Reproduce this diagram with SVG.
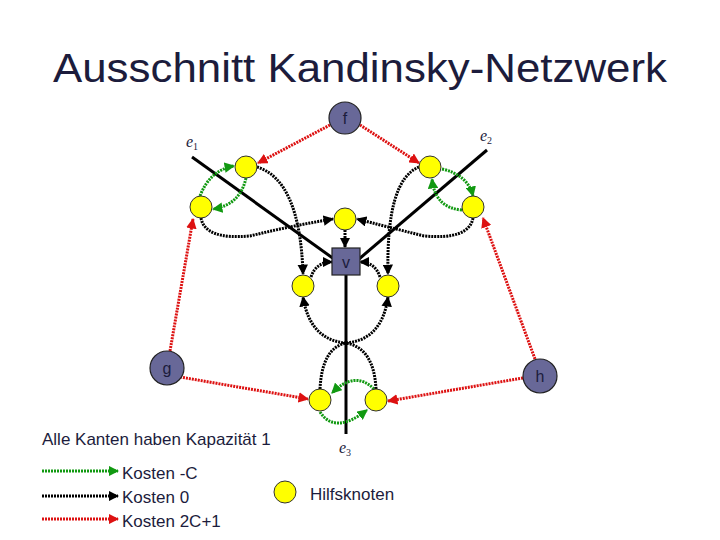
<svg xmlns="http://www.w3.org/2000/svg" width="720" height="540" viewBox="0 0 720 540">
<style>
.t{font-family:"Liberation Sans",Arial,sans-serif;fill:#1c1c3c}
.big{fill:#686898;stroke:#222;stroke-width:1.2}
.y{fill:#ffff00;stroke:#333;stroke-width:1}
.r{stroke:#dd1111;fill:none;stroke-width:3;stroke-dasharray:2 1;marker-end:url(#mr)}
.g{stroke:#119911;fill:none;stroke-width:3;stroke-dasharray:2 1;marker-end:url(#mg)}
.k{stroke:#000;fill:none;stroke-width:3;stroke-dasharray:2 1;marker-end:url(#mk)}
.s{stroke:#000;stroke-width:3;fill:none}
.e{font-family:"Liberation Serif",serif;font-style:italic;font-size:16px}
</style>
<defs>
<marker id="mr" viewBox="0 0 10 10" refX="9" refY="5" markerWidth="3.5" markerHeight="3.5" orient="auto"><path d="M0,0L10,5L0,10z" fill="#dd1111"/></marker>
<marker id="mg" viewBox="0 0 10 10" refX="9" refY="5" markerWidth="3.5" markerHeight="3.5" orient="auto"><path d="M0,0L10,5L0,10z" fill="#119911"/></marker>
<marker id="mk" viewBox="0 0 10 10" refX="9" refY="5" markerWidth="3.5" markerHeight="3.5" orient="auto"><path d="M0,0L10,5L0,10z" fill="#000"/></marker>
</defs>
<text class="t" x="360" y="82" font-size="40" text-anchor="middle" textLength="614" lengthAdjust="spacingAndGlyphs">Ausschnitt Kandinsky-Netzwerk</text>
<g id="edges">
<line class="s" x1="192" y1="157" x2="334" y2="259"/>
<line class="s" x1="487" y1="150" x2="359" y2="259"/>
<line class="s" x1="346" y1="275" x2="346" y2="434"/>
<path class="r" d="M330,125L258,163"/>
<path class="r" d="M360,125L419,163"/>
<path class="r" d="M170,351L193,219"/>
<path class="r" d="M535,359L483,218"/>
<path class="r" d="M180,377L308,399"/>
<path class="r" d="M523,378L388,401"/>
<path class="g" d="M200,196Q210,170 234,166"/>
<path class="g" d="M246,178Q240,205 213,209"/>
<path class="g" d="M442,169Q468,175 473,196"/>
<path class="g" d="M462,210Q435,208 432,179"/>
<path class="g" d="M374,389Q355,370 332,393"/>
<path class="g" d="M320,412Q335,435 367,410"/>
<path class="k" d="M257,167Q300,180 303,274"/>
<path class="k" d="M419,167Q386,180 388,274"/>
<path class="k" d="M201,218Q205,240 250,236Q290,226 333,219"/>
<path class="k" d="M473,218Q469,240 424,236Q384,226 357,219"/>
<path class="k" d="M345,230L345,247"/>
<path class="k" d="M311,277Q316,262 332,262"/>
<path class="k" d="M380,277Q375,262 360,262"/>
<path class="k" d="M320,389Q322,348 346,343Q310,340 303,297"/>
<path class="k" d="M376,389Q374,348 346,343Q382,340 388,297"/>
</g>
<g id="f"><circle class="big" cx="345" cy="118" r="16"/><text class="t" x="345" y="124" font-size="16" text-anchor="middle">f</text></g>
<g id="v"><rect class="big" x="332" y="248" width="28" height="27"/><text class="t" x="346" y="268" font-size="16" text-anchor="middle">v</text></g>
<g id="g"><circle class="big" cx="167" cy="368" r="17"/><text class="t" x="167" y="374" font-size="16" text-anchor="middle">g</text></g>
<g id="h"><circle class="big" cx="540" cy="376" r="17"/><text class="t" x="540" y="382" font-size="16" text-anchor="middle">h</text></g>
<g id="aux">
<circle class="y" cx="246" cy="167" r="11"/><circle class="y" cx="201" cy="207" r="11"/>
<circle class="y" cx="345" cy="219" r="11"/><circle class="y" cx="430" cy="167" r="11"/>
<circle class="y" cx="473" cy="207" r="11"/><circle class="y" cx="303" cy="286" r="11"/>
<circle class="y" cx="388" cy="286" r="11"/><circle class="y" cx="320" cy="400" r="11"/>
<circle class="y" cx="376" cy="400" r="11"/>
</g>
<text class="t e" x="186" y="147">e<tspan font-size="10" font-style="normal" dy="3">1</tspan></text>
<text class="t e" x="480" y="141">e<tspan font-size="10" font-style="normal" dy="3">2</tspan></text>
<text class="t e" x="339" y="453">e<tspan font-size="10" font-style="normal" dy="3">3</tspan></text>
<text class="t" x="42" y="445" font-size="17">Alle Kanten haben Kapazität 1</text>
<g id="legend">
<path class="g" d="M42,471L118,471"/>
<path class="k" d="M42,496L118,496"/>
<path class="r" d="M42,519L118,519"/>
<text class="t" x="122" y="479" font-size="17">Kosten -C</text>
<text class="t" x="122" y="503" font-size="17">Kosten 0</text>
<text class="t" x="122" y="527" font-size="17">Kosten 2C+1</text>
<circle class="y" cx="285" cy="492" r="11"/>
<text class="t" x="310" y="500" font-size="17">Hilfsknoten</text>
</g>
</svg>
